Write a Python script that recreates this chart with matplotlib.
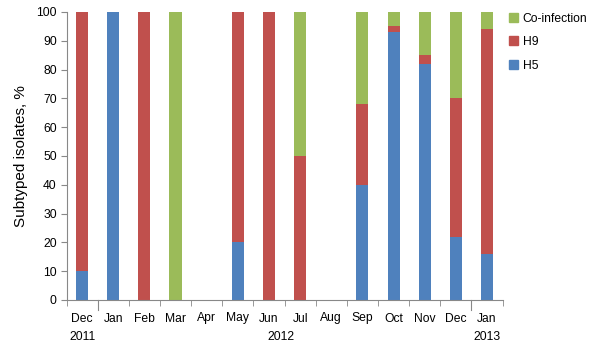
import numpy as np
import matplotlib
matplotlib.use("Agg")
import matplotlib.pyplot as plt
from matplotlib.patches import Patch

plt.rcParams["font.family"] = ["Liberation Sans", "DejaVu Sans"]

# month categories, Dec 2011 .. Jan 2013
months = ["Dec", "Jan", "Feb", "Mar", "Apr", "May", "Jun", "Jul",
          "Aug", "Sep", "Oct", "Nov", "Dec", "Jan"]
years = ["2011", "2012", "2013"]
year_pos = [0, 6.4, 13]

# percent of subtyped isolates
h5 = [10, 100, 0, 0, 0, 20, 0, 0, 0, 40, 93, 82, 22, 16]
h9 = [90, 0, 100, 0, 0, 80, 100, 50, 0, 28, 2, 3, 48, 78]
coinf = [0, 0, 0, 100, 0, 0, 0, 50, 0, 32, 5, 15, 30, 6]

c_h5 = "#4F81BD"
c_h9 = "#C0504D"
c_co = "#9BBB59"
fs = 8.7

fig = plt.figure(figsize=(6, 3.57), dpi=100)
ax = fig.add_axes([66.5 / 600, 1 - 300 / 357, (502.6 - 66.5) / 600, 288 / 357])

x = np.arange(len(months))
w = 0.39
h5 = np.array(h5)
h9 = np.array(h9)
coinf = np.array(coinf)
ax.bar(x, h5, w, color=c_h5)
ax.bar(x, h9, w, bottom=h5, color=c_h9)
ax.bar(x, coinf, w, bottom=h5 + h9, color=c_co)

ax.set_xlim(-0.5, len(months) - 0.5)
ax.set_ylim(0, 100)
ax.set_yticks(range(0, 101, 10))
ax.tick_params(axis="y", labelsize=fs, length=4, color="#888888", pad=3)

# month labels without major tick marks, separators as minor ticks
ax.set_xticks(x)
ax.set_xticklabels(months, fontsize=fs)
ax.tick_params(axis="x", which="major", length=0, pad=9)
ax.set_xticks(np.arange(-0.5, len(months)), minor=True)
ax.tick_params(axis="x", which="minor", length=4, color="#888888")

# longer ticks at year boundaries
for b in [0.5, 12.5]:
    ax.plot([b, b], [0, -3.6], color="#888888", lw=0.8, clip_on=False)

for yr, p in zip(years, year_pos):
    ax.text(p, -12.8, yr, ha="center", va="center", fontsize=fs)

for s in ["top", "right"]:
    ax.spines[s].set_visible(False)
ax.spines["left"].set_color("#888888")
ax.spines["bottom"].set_color("#888888")

ax.set_ylabel("Subtyped isolates, %", fontsize=11, labelpad=6)

handles = [Patch(color=c_co, label="Co-infection"),
           Patch(color=c_h9, label="H9"),
           Patch(color=c_h5, label="H5")]
fig.legend(handles=handles, loc="upper left", bbox_to_anchor=(0.83, 0.995),
           frameon=False, fontsize=fs, handlelength=0.75, handleheight=0.75,
           handletextpad=0.4, labelspacing=0.95)

fig.savefig("out.png", dpi=100)
